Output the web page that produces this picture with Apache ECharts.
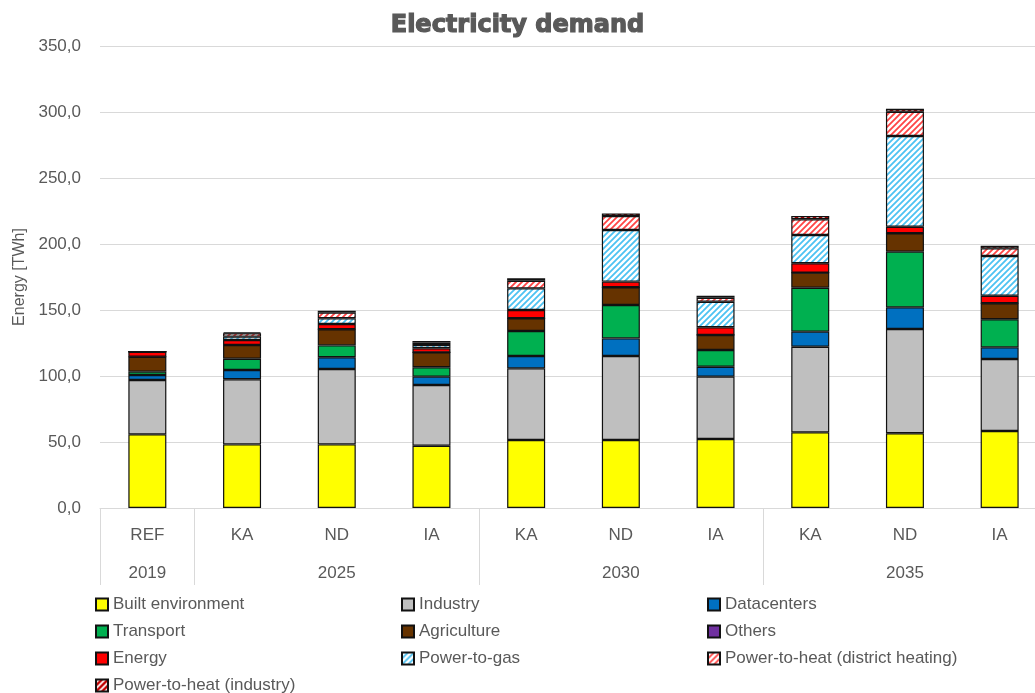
<!DOCTYPE html>
<html>
<head>
<meta charset="utf-8">
<script src="https://cdn.jsdelivr.net/npm/echarts@6/dist/echarts.min.js"></script>
<style>
  html, body { margin: 0; padding: 0; background: #fff; }
  #chart { width: 1035px; height: 693px; }
</style>
</head>
<body>
<div id="chart"></div>
<script>
// scenario labels (first row) and year groups (second row)
var scenarios = ['REF', 'KA', 'ND', 'IA', 'KA', 'ND', 'IA', 'KA', 'ND', 'IA']
var yearLabels = ['2019', '', '2025', '', '', '2030', '', '', '2035', '']
var groupStarts = [0, 1, 4, 7]
var yTicks = [0, 50, 100, 150, 200, 250, 300, 350]

// TWh per sector
var builtEnvironment = [55.8, 48.2, 48.2, 47.2, 51.5, 51.5, 52.3, 57.3, 56.6, 58.3]
var industry = [41.2, 49.3, 57.1, 46.0, 54.3, 63.7, 47.2, 64.9, 79.0, 54.6]
var datacenters = [3.8, 7.0, 8.9, 6.3, 9.4, 13.3, 7.5, 11.4, 16.4, 8.8]
var transport = [2.5, 8.6, 9.0, 7.1, 18.9, 25.3, 12.7, 33.3, 42.2, 21.3]
var agriculture = [11.3, 10.4, 12.2, 11.3, 9.6, 13.4, 11.4, 11.4, 13.9, 12.1]
var others = [0, 0, 0, 0, 0, 0, 0, 0, 0, 0]
var energy = [3.8, 3.8, 4.0, 3.1, 6.3, 4.3, 5.8, 7.1, 5.0, 5.7]
var powerToGas = [0, 2.5, 4.3, 2.5, 16.4, 39.1, 19.4, 21.4, 68.7, 30.1]
var powerToHeatDH = [0, 2.5, 4.3, 1.8, 5.8, 10.6, 3.0, 11.9, 18.4, 5.8]
var powerToHeatInd = [0, 0.8, 1.5, 1.2, 1.8, 2.0, 1.5, 2.5, 2.3, 2.0]

var font = 'Liberation Sans'
var textColor = '#595959'

// diagonal "/" stripes on white
function stripes(color, size, lineW) {
  var c = document.createElement('canvas')
  c.width = size
  c.height = size
  var ctx = c.getContext('2d')
  ctx.fillStyle = '#fff'
  ctx.fillRect(0, 0, size, size)
  ctx.strokeStyle = color
  ctx.lineWidth = lineW
  ctx.beginPath()
  ctx.moveTo(0, size); ctx.lineTo(size, 0)
  ctx.moveTo(-size / 2, size / 2); ctx.lineTo(size / 2, -size / 2)
  ctx.moveTo(size / 2, size * 1.5); ctx.lineTo(size * 1.5, size / 2)
  ctx.stroke()
  return { image: c, repeat: 'repeat' }
}

var sectors = [
  ['Built environment', builtEnvironment, '#ffff00'],
  ['Industry', industry, '#bfbfbf'],
  ['Datacenters', datacenters, '#0070c0'],
  ['Transport', transport, '#00b050'],
  ['Agriculture', agriculture, '#663300'],
  ['Others', others, '#7030a0'],
  ['Energy', energy, '#ff0000'],
  ['Power-to-gas', powerToGas, stripes('#4cc2f2', 6, 1.8)],
  ['Power-to-heat (district heating)', powerToHeatDH, stripes('#ff4545', 6, 1.8)],
  ['Power-to-heat (industry)', powerToHeatInd, stripes('#c00000', 6, 2.5)]
]

var chart = echarts.init(document.getElementById('chart'))

chart.setOption({
  animation: false,
  title: {
    text: 'Electricity demand',
    left: 'center',
    top: 9,
    textStyle: {
      fontFamily: 'DejaVu Sans', fontWeight: 'bold', fontSize: 24, color: textColor,
      textBorderColor: textColor, textBorderWidth: 1.2
    }
  },
  // the plot runs past the right edge of the picture, as in the source
  grid: { left: 100, top: 46, width: 947, height: 462, outerBoundsMode: 'none' },
  legend: {
    left: 95,
    top: 596,
    padding: 0,
    width: 940,
    itemWidth: 12,
    itemHeight: 12,
    itemGap: 10,
    icon: 'rect',
    textStyle: { fontFamily: font, fontSize: 17, color: textColor, width: 278, lineHeight: 16, overflow: 'none' },
    data: sectors.map(function (s) { return s[0] })
  },
  xAxis: [
    {
      type: 'category',
      data: scenarios,
      axisLine: { lineStyle: { color: '#d9d9d9', width: 1 } },
      axisTick: {
        show: true,
        length: 77,
        lineStyle: { color: '#d9d9d9' },
        interval: function (idx) { return groupStarts.indexOf(idx) >= 0 }
      },
      axisLabel: { margin: 19, fontFamily: font, fontSize: 17, color: textColor, interval: 0 }
    },
    {
      type: 'category',
      position: 'bottom',
      offset: 38,
      data: yearLabels,
      axisLine: { show: false },
      axisTick: { show: false },
      axisLabel: { margin: 19, fontFamily: font, fontSize: 17, color: textColor, interval: 0 }
    }
  ],
  yAxis: {
    type: 'value',
    min: yTicks[0],
    max: yTicks[yTicks.length - 1],
    interval: 50,
    name: 'Energy [TWh]',
    nameLocation: 'middle',
    nameGap: 70,
    nameTextStyle: { fontFamily: font, fontSize: 16, color: textColor },
    axisLine: { show: false },
    axisTick: { show: false },
    splitLine: { lineStyle: { color: '#d9d9d9', width: 1 } },
    axisLabel: {
      margin: 19,
      fontFamily: font,
      fontSize: 17,
      color: textColor,
      formatter: function (v) { return v.toFixed(1).replace('.', ',') }
    }
  },
  series: sectors.map(function (s) {
    return {
      name: s[0],
      type: 'bar',
      stack: 'total',
      barWidth: 38,
      data: s[1],
      itemStyle: { color: s[2], borderColor: '#111', borderWidth: 1.2 }
    }
  })
})
</script>
</body>
</html>
